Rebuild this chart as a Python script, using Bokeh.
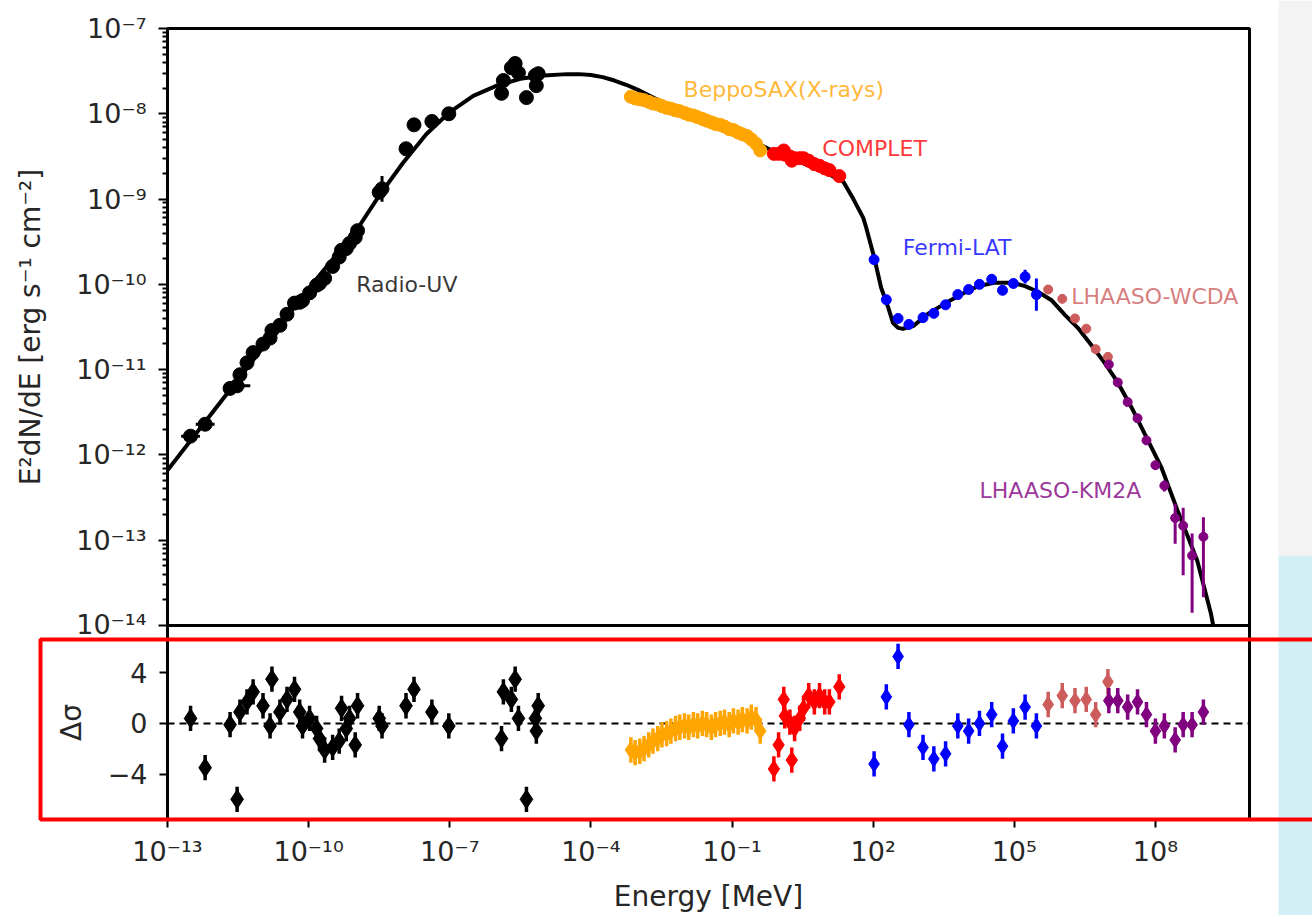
import numpy as np
from bokeh.plotting import figure
from bokeh.layouts import column
from bokeh.models import (FixedTicker, CustomJSTickFormatter, Range1d, Span, Label)
from bokeh.embed import file_html
from bokeh.resources import INLINE

# ---------------- data (log10 of energy [MeV] and of E^2 dN/dE [erg s^-1 cm^-2]) ----------------
model_logE = [-13.00, -12.00, -11.00, -10.00, -9.00, -8.50, -8.00, -7.50, -7.00, -6.50, -6.00,
              -5.50, -5.00, -4.50, -4.25, -4.00, -3.75, -3.50, -3.25, -3.00, -2.75, -2.50,
              -2.00, -1.50, -1.00, -0.50, 0.00, 0.50, 1.00, 1.37, 1.58, 1.79, 1.85, 2.02,
              2.17, 2.32, 2.42, 2.53, 2.63, 2.85, 3.18, 3.54, 3.90, 4.24, 4.60, 4.96, 5.23,
              5.51, 5.80, 6.08, 6.35, 6.65, 6.92, 7.20, 7.49, 7.77, 8.13, 8.47, 8.89, 9.18, 9.25]
model_logF = [-12.18, -11.47, -10.76, -10.05, -9.38, -8.96, -8.58, -8.24, -7.98, -7.79, -7.67,
              -7.59, -7.55, -7.535, -7.535, -7.545, -7.57, -7.61, -7.66, -7.72, -7.79, -7.86,
              -7.99, -8.10, -8.21, -8.34, -8.47, -8.58, -8.69, -8.80, -9.00, -9.22, -9.33, -9.68,
              -10.04, -10.27, -10.45, -10.51, -10.52, -10.49, -10.34, -10.22, -10.11, -10.02, -9.98, -9.98, -10.02,
              -10.09, -10.19, -10.36, -10.51, -10.72, -10.92, -11.15, -11.44, -11.75, -12.15, -12.65, -13.24, -13.86, -14.06]

radio_logE = [-12.51, -12.20, -11.52, -11.67, -11.46, -11.31, -11.18, -10.97, -10.78, -10.82, -10.61,
              -10.46, -10.30, -10.19, -10.13, -9.98, -9.83, -9.77, -9.66, -9.49, -9.35, -9.30, -9.20,
              -9.13, -8.96, -9.01, -8.50, -8.44, -7.93, -7.76, -7.38, -7.02, -5.90, -5.86, -5.69,
              -5.61, -5.54, -5.37, -5.18, -5.12, -5.16]
radio_logF = [-11.78, -11.64, -11.19, -11.22, -11.06, -10.92, -10.80, -10.70, -10.54, -10.63, -10.48,
              -10.35, -10.22, -10.21, -10.19, -10.10, -10.01, -9.99, -9.93, -9.79, -9.68, -9.60, -9.58,
              -9.52, -9.37, -9.45, -8.92, -8.88, -8.41, -8.13, -8.09, -8.00, -7.76, -7.61, -7.46,
              -7.41, -7.52, -7.81, -7.55, -7.53, -7.67]
radio_err = [0.04, 0.04, 0.04, 0.04, 0.04, 0.04, 0.04, 0.04, 0.04, 0.04, 0.04,
             0.04, 0.04, 0.04, 0.04, 0.04, 0.04, 0.04, 0.04, 0.04, 0.04, 0.04, 0.04,
             0.04, 0.04, 0.04, 0.08, 0.15, 0.06, 0.05, 0.04, 0.04, 0.05, 0.05, 0.05,
             0.05, 0.05, 0.06, 0.05, 0.05, 0.05]
radio_xerr = [0.20, 0.20, 0.28, 0.0, 0.0, 0.0, 0.0, 0.0, 0.0, 0.0, 0.0,
              0.0, 0.0, 0.0, 0.0, 0.0, 0.0, 0.0, 0.0, 0.0, 0.0, 0.0, 0.0,
              0.0, 0.0, 0.0, 0.0, 0.0, 0.0, 0.0, 0.0, 0.0, 0.0, 0.0, 0.0,
              0.0, 0.0, 0.0, 0.0, 0.0, 0.0]
radio_res = [0.4, -3.5, -6.0, -0.1, 0.9, 1.7, 2.5, 1.4, 3.5, -0.2, 0.9,
             1.9, 2.7, 0.9, -0.2, 0.4, -0.4, -1.2, -2.1, -1.9, -1.4, 1.2, -0.4,
             0.4, 1.4, -1.7, 0.4, -0.2, 1.4, 2.7, 0.9, -0.2, -1.2, 2.5, 1.9,
             3.5, 0.4, -6.0, 0.4, 1.4, -0.6]

sax_logE = [-3.15, -3.06, -2.96, -2.87, -2.77, -2.68, -2.58, -2.49, -2.39, -2.30, -2.20, -2.11,
            -2.01, -1.92, -1.82, -1.73, -1.63, -1.54, -1.44, -1.35, -1.25, -1.16, -1.06, -0.97,
            -0.87, -0.78, -0.68, -0.59, -0.49, -0.40]
sax_logF = [-7.80, -7.82, -7.83, -7.84, -7.86, -7.88, -7.89, -7.91, -7.93, -7.94, -7.96, -7.97,
            -7.99, -8.01, -8.02, -8.04, -8.06, -8.08, -8.10, -8.12, -8.13, -8.15, -8.18, -8.19,
            -8.22, -8.24, -8.26, -8.30, -8.35, -8.43]
sax_res = [-2.1, -2.3, -2.2, -2.0, -1.7, -1.4, -1.2, -0.9, -0.8, -0.6, -0.4, -0.3,
           -0.2, -0.3, -0.1, -0.2, 0.0, -0.1, -0.3, -0.1, 0.0, 0.1, -0.1, 0.2,
           0.1, 0.3, 0.2, 0.5, 0.3, -0.6]

comptel_logE = [-0.11, -0.01, 0.10, 0.12, 0.23, 0.27, 0.33, 0.44, 0.52, 0.63, 0.75, 0.86, 0.97, 1.07, 1.28]
comptel_logF = [-8.47, -8.47, -8.43, -8.48, -8.50, -8.55, -8.52, -8.52, -8.52, -8.55, -8.59, -8.61,
                -8.64, -8.66, -8.73]
comptel_res = [-3.6, -1.7, 1.9, 0.6, 0.1, -2.9, -0.4, 0.4, 1.2, 2.2, 1.7, 2.2, 1.7, 1.7, 2.9]

fermi_logE = [2.02, 2.28, 2.53, 2.76, 3.06, 3.29, 3.54, 3.80, 4.03, 4.26, 4.52, 4.75, 4.98, 5.23, 5.47]
fermi_logF = [-9.71, -10.18, -10.40, -10.47, -10.39, -10.34, -10.24, -10.12, -10.06, -10.00, -9.94,
              -10.07, -9.99, -9.91, -10.12]
fermi_err = [0.04, 0.03, 0.03, 0.03, 0.03, 0.03, 0.03, 0.03, 0.03, 0.03, 0.03, 0.04, 0.05, 0.08, 0.19]
fermi_res = [-3.2, 2.1, 5.3, -0.1, -1.9, -2.8, -2.4, -0.2, -0.6, 0.0, 0.7, -1.8, 0.2, 1.3, -0.2]

wcda_logE = [5.72, 6.02, 6.29, 6.53, 6.73, 6.99]
wcda_logF = [-10.06, -10.17, -10.40, -10.52, -10.76, -10.85]
wcda_err = [0.04, 0.04, 0.04, 0.04, 0.04, 0.05]
wcda_res = [1.5, 2.2, 1.8, 1.9, 0.7, 3.3]

km2a_logE = [7.01, 7.20, 7.41, 7.62, 7.81, 8.00, 8.19, 8.42, 8.59, 8.78, 9.02]
km2a_logF = [-10.94, -11.15, -11.38, -11.57, -11.83, -12.12, -12.36, -12.74, -12.83, -13.18, -12.96]
km2a_err_lo = [0.03, 0.03, 0.03, 0.04, 0.04, 0.05, 0.07, 0.30, 0.58, 0.67, 0.71]
km2a_err_hi = [0.03, 0.03, 0.03, 0.04, 0.04, 0.05, 0.06, 0.17, 0.21, 0.26, 0.23]
km2a_res = [1.8, 1.8, 1.3, 1.7, 0.7, -0.6, -0.2, -1.3, -0.1, -0.1, 0.9]

x_tick_exps = [-13, -10, -7, -4, -1, 2, 5, 8]
y_tick_exps = [-14, -13, -12, -11, -10, -9, -8, -7]
res_ticks = [-4, 0, 4]

labels = [("Radio-UV", -8.99, -10.00, "black"),
          ("BeppoSAX(X-rays)", -2.03, -7.72, "orange"),
          ("COMPLET", 0.92, -8.41, "red"),
          ("Fermi-LAT", 2.63, -9.57, "blue"),
          ("LHAASO-WCDA", 6.21, -10.14, "indianred"),
          ("LHAASO-KM2A", 4.26, -12.42, "purple")]

# ---------------- styling ----------------
FONT = "DejaVu Sans"
TXT = "#262626"
TICK_FS = "27px"
LABEL_FS = "28px"

log_fmt = CustomJSTickFormatter(code="""
const sup = {"-": "\u207b", "0": "\u2070", "1": "\u00b9", "2": "\u00b2", "3": "\u00b3",
             "4": "\u2074", "5": "\u2075", "6": "\u2076", "7": "\u2077", "8": "\u2078", "9": "\u2079"};
const e = Math.round(Math.log10(tick));
return "10" + String(e).split("").map(c => sup[c]).join("");
""")
res_fmt = CustomJSTickFormatter(code="""
return tick < 0 ? "\u2212" + Math.abs(tick) : String(tick);
""")


def style_axis(ax):
    ax.major_label_text_font = FONT
    ax.major_label_text_font_size = TICK_FS
    ax.major_label_text_color = TXT
    ax.axis_label_text_font = FONT
    ax.axis_label_text_font_size = LABEL_FS
    ax.axis_label_text_font_style = "normal"
    ax.axis_label_text_color = TXT
    ax.axis_line_width = 3
    ax.axis_line_color = "black"
    ax.major_tick_line_width = 2
    ax.minor_tick_line_width = 2
    ax.major_tick_in = 0
    ax.minor_tick_in = 0


x_range = Range1d(1e-13, 1e10)

# ---------------- top panel: SED ----------------
p1 = figure(width=1312, height=639, x_axis_type="log", y_axis_type="log",
            x_range=x_range, y_range=Range1d(1e-14, 1e-7),
            output_backend="svg", toolbar_location=None, title=None,
            min_border_left=167, min_border_right=63, min_border_top=28, min_border_bottom=14)
p1.xaxis.visible = False
p1.grid.visible = False
p1.outline_line_color = "black"
p1.outline_line_width = 3
p1.outline_line_alpha = 1
p1.background_fill_color = "white"
p1.border_fill_color = "white"

ya = p1.yaxis[0]
style_axis(ya)
minor = [m * 10.0 ** k for k in y_tick_exps[:-1] for m in range(2, 10)]
ya.ticker = FixedTicker(ticks=[10.0 ** k for k in y_tick_exps], minor_ticks=minor)
ya.formatter = log_fmt
ya.major_tick_out = 9
ya.minor_tick_out = 5
ya.major_label_standoff = 12
ya.axis_label = "E\u00b2dN/dE [erg s\u207b\u00b9 cm\u207b\u00b2]"
ya.axis_label_standoff = 26

# model curve
p1.line(10 ** np.array(model_logE), 10 ** np.array(model_logF), line_color="black", line_width=4)


def sed(logE, logF, err_lo, err_hi, color, size, xerr=None):
    lE = np.array(logE)
    lF = np.array(logF)
    E = 10 ** lE
    F = 10 ** lF
    p1.segment(x0=E, y0=10 ** (lF - np.array(err_lo)), x1=E, y1=10 ** (lF + np.array(err_hi)),
               line_color=color, line_width=3)
    if xerr is not None:
        xe = np.array(xerr)
        m = xe > 0
        p1.segment(x0=10 ** (lE[m] - xe[m]), y0=F[m], x1=10 ** (lE[m] + xe[m]), y1=F[m],
                   line_color=color, line_width=3)
    p1.scatter(E, F, size=size, marker="circle", fill_color=color, line_color=color)


sed(radio_logE, radio_logF, radio_err, radio_err, "black", 14, radio_xerr)
sed(sax_logE, sax_logF, [0.05] * len(sax_logE), [0.05] * len(sax_logE), "orange", 13)
sed(comptel_logE, comptel_logF, [0.05] * len(comptel_logE), [0.05] * len(comptel_logE), "red", 13)
sed(fermi_logE, fermi_logF, fermi_err, fermi_err, "blue", 10)
sed(wcda_logE, wcda_logF, wcda_err, wcda_err, "indianred", 9)
sed(km2a_logE, km2a_logF, km2a_err_lo, km2a_err_hi, "purple", 9)

for text, lx, ly, col in labels:
    p1.add_layout(Label(x=10 ** lx, y=10 ** ly, text=text, text_font=FONT, text_font_size="22px",
                        text_color=col, text_alpha=0.8, text_baseline="middle", text_align="left"))

# ---------------- bottom panel: residuals ----------------
p2 = figure(width=1312, height=290, x_axis_type="log",
            x_range=x_range, y_range=Range1d(-7.6, 7.75),
            output_backend="svg", toolbar_location=None, title=None,
            min_border_left=167, min_border_right=62, min_border_top=0, min_border_bottom=92,
            styles={"margin-top": "-14px"})
p2.grid.visible = False
p2.outline_line_color = "black"
p2.outline_line_width = 3
p2.outline_line_alpha = 1
p2.background_fill_color = "white"
p2.border_fill_color = None

xa = p2.xaxis[0]
style_axis(xa)
xa.ticker = FixedTicker(ticks=[10.0 ** k for k in x_tick_exps], minor_ticks=[])
xa.formatter = log_fmt
xa.major_tick_out = 8
xa.major_label_standoff = 8
xa.axis_label = "Energy [MeV]"
xa.axis_label_standoff = 10

ra = p2.yaxis[0]
style_axis(ra)
ra.ticker = FixedTicker(ticks=res_ticks, minor_ticks=[])
ra.formatter = res_fmt
ra.major_tick_out = 8
ra.major_label_standoff = 12
ra.axis_label = "\u0394\u03c3"
ra.axis_label_standoff = 17

p2.add_layout(Span(location=0, dimension="width", line_color="black", line_width=2,
                   line_dash="7 5", level="underlay"))


def resid(logE, res, color, size):
    E = 10 ** np.array(logE)
    r = np.array(res)
    p2.segment(x0=E, y0=r - 1, x1=E, y1=r + 1, line_color=color, line_width=3.5)
    p2.scatter(E, r, size=size, marker="diamond", fill_color=color, line_color=color)


resid(radio_logE, radio_res, "black", 19)
resid(sax_logE, sax_res, "orange", 17)
resid(comptel_logE, comptel_res, "red", 17)
resid(fermi_logE, fermi_res, "blue", 16)
resid(wcda_logE, wcda_res, "indianred", 16)
resid(km2a_logE, km2a_res, "purple", 16)

# ---------------- transparent page overlay: screenshot strip + red highlight box ----------------
p3 = figure(width=1312, height=915, x_range=Range1d(0, 1312), y_range=Range1d(915, 0),
            output_backend="svg", toolbar_location=None, title=None,
            min_border=0, min_border_left=0, min_border_right=0, min_border_top=0, min_border_bottom=0,
            styles={"margin-top": "-915px", "pointer-events": "none"})
p3.frame_align = False
p3.axis.visible = False
p3.grid.visible = False
p3.outline_line_color = None
p3.background_fill_color = None
p3.border_fill_color = None
p3.quad(left=[1278, 1278], right=[1312, 1312], top=[0, 555], bottom=[555, 915],
        fill_color=["#f3f3f3", "#d3eff6"], line_color=None)
p3.quad(left=[40], right=[1400], top=[639], bottom=[819],
        fill_alpha=0, line_color="red", line_width=4)

layout = column(p1, p2, p3, spacing=0)
open("out.html", "w").write(file_html(layout, INLINE))
